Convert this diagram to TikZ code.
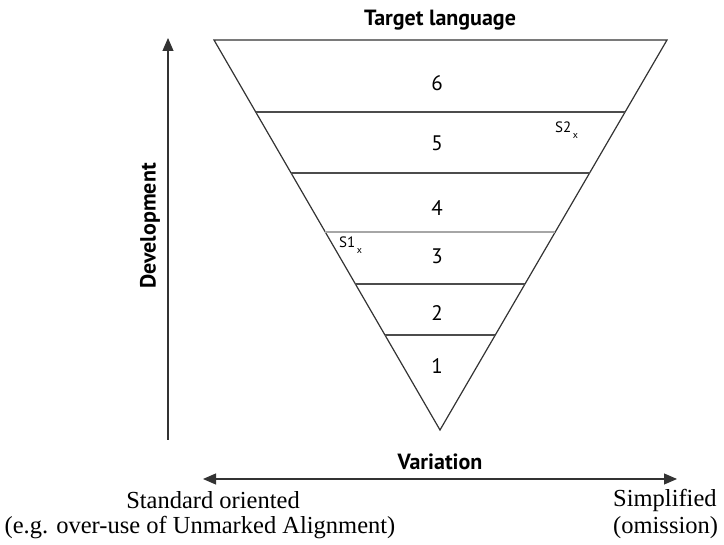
\documentclass[tikz,border=0pt]{standalone}
\usepackage{fontspec}
\setmainfont{Liberation Serif}
\setsansfont{PT Sans}
\usetikzlibrary{calc,arrows.meta}
\newcommand{\lowx}{\raisebox{-6pt}{\fontsize{10}{10}\selectfont x}}
\tikzset{
  axtip/.tip={Triangle[length=13pt,width=11pt]},
  edge/.style={draw=black!80, line width=1.2pt},
  band/.style={draw=black!70, line width=1.2pt},
  lightband/.style={draw=black!35, line width=1.2pt},
  level/.style={font=\sffamily\fontsize{21}{21}\selectfont, inner sep=0pt},
  tag/.style={font=\sffamily\fontsize{15}{15}\selectfont, inner sep=0pt},
  heading/.style={font=\sffamily\bfseries\fontsize{22}{22}\selectfont, inner sep=0pt},
  note/.style={font=\rmfamily\fontsize{24.5}{24.5}\selectfont, inner sep=0pt},
  axis/.style={draw=black!80, line width=1.1pt},
}
\begin{document}
\begin{tikzpicture}[x=1pt,y=-1pt]
\useasboundingbox (0,0) rectangle (724,545);
% corners of the inverted triangle
\coordinate (L) at (214,40);
\coordinate (R) at (667,40);
\coordinate (A) at (440,430);
\draw[edge] (L) -- (R) -- (A) -- cycle;
% horizontal bands
\foreach \t/\s in {0.1846/band,0.3410/band,0.4923/lightband,0.6256/band,0.7564/band}{
  \draw[\s] ($(L)!\t!(A)$) -- ($(R)!\t!(A)$);
}
% level numbers
\node[level] (n6) at (437,83) {6};
\node[level] (n5) at (437,143) {5};
\node[level] (n4) at (437,208) {4};
\node[level] (n3) at (437,256) {3};
\node[level] (n2) at (437,313) {2};
\node[level] (n1) at (437,366) {1};
% learner positions
\node[tag, anchor=base west] (s2) at (555,133) {S2\hspace{1.5pt}\lowx};
\node[tag, anchor=base west] (s1) at (339,248) {S1\hspace{1.5pt}\lowx};
% headings
\node[heading] (top) at (440,20) {Target language};
\node[heading, rotate=90] (dev) at (150,226) {Development};
\node[heading] (var) at (440,462) {Variation};
% axes
\coordinate (vb) at (168,440);
\coordinate (vt) at (168,38);
\draw[axis, -axtip] (vb) -- (vt);
\coordinate (hl) at (203,479);
\coordinate (hr) at (677,479);
\draw[axis, axtip-axtip] (hl) -- (hr);
% end labels
\node[note] (so) at (213,500) {Standard oriented};
\node[note] (eg) at (200,528) {(e.g. over-use of Unmarked Alignment)};
\node[note, anchor=west] (si) at (613,500) {Simplified};
\node[note, anchor=west] (om) at (613,528) {(omission)};
\end{tikzpicture}
\end{document}
